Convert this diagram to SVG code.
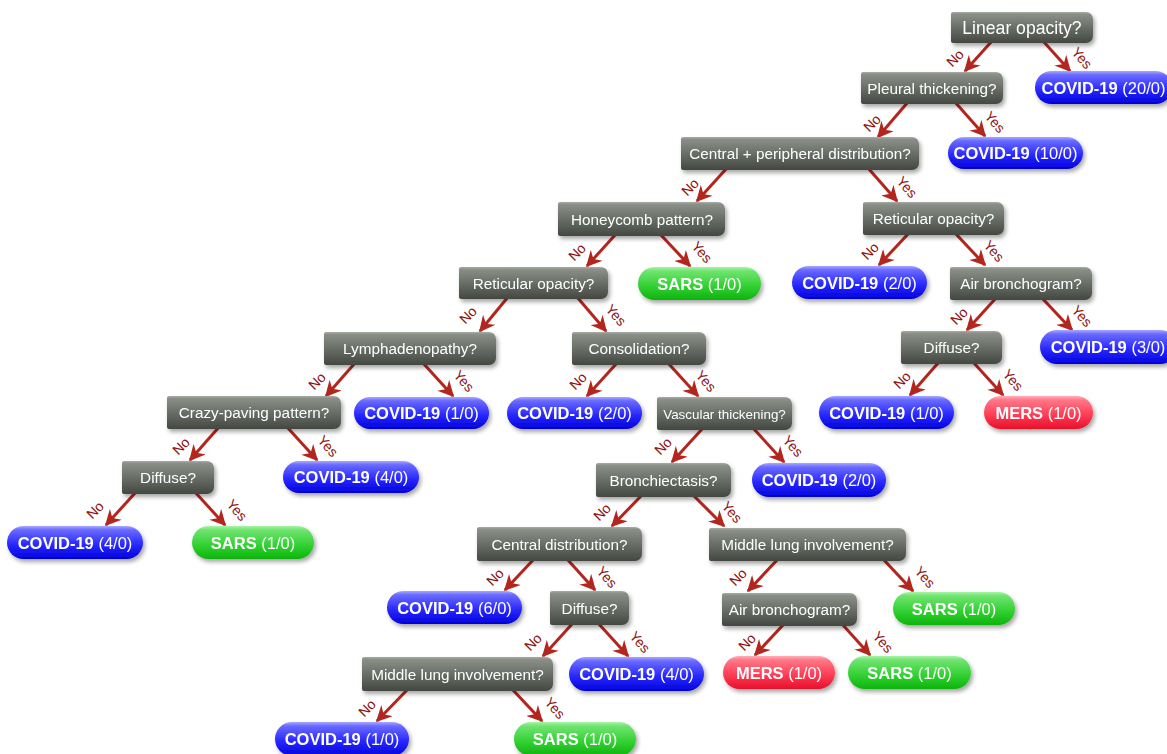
<svg xmlns="http://www.w3.org/2000/svg" width="1167" height="754" viewBox="0 0 1167 754">
<style>
.q{fill:url(#gGray)}
.qt{font-family:"Liberation Sans",Arial,sans-serif;font-size:15.3px;fill:#fff;text-anchor:middle}
.lt{font-family:"Liberation Sans",Arial,sans-serif;font-size:16.5px;fill:#fff;text-anchor:middle}
.lt tspan.b{font-weight:bold}
.blue{fill:url(#gBlue)}
.green{fill:url(#gGreen)}
.red{fill:url(#gRed)}
.e{stroke:#b3261e;stroke-width:3;fill:none;marker-end:url(#ah)}
.lb{font-family:"Liberation Sans",Arial,sans-serif;font-size:14px;fill:#8e1212;text-anchor:middle;dominant-baseline:central}
.sh{filter:url(#shadow)}
</style>
<defs>
<linearGradient id="gGray" x1="0" y1="0" x2="0" y2="1">
<stop offset="0" stop-color="#aaada7"/>
<stop offset="0.07" stop-color="#8a8f88"/>
<stop offset="1" stop-color="#434841"/>
</linearGradient>
<linearGradient id="gBlue" x1="0" y1="0" x2="0" y2="1">
<stop offset="0" stop-color="#a8a8ff"/>
<stop offset="0.12" stop-color="#6a6aff"/>
<stop offset="0.55" stop-color="#2a2aff"/>
<stop offset="1" stop-color="#0000dc"/>
</linearGradient>
<linearGradient id="gGreen" x1="0" y1="0" x2="0" y2="1">
<stop offset="0" stop-color="#a8f4a8"/>
<stop offset="0.12" stop-color="#70e470"/>
<stop offset="0.55" stop-color="#36d236"/>
<stop offset="1" stop-color="#0cb40c"/>
</linearGradient>
<linearGradient id="gRed" x1="0" y1="0" x2="0" y2="1">
<stop offset="0" stop-color="#ffb0bb"/>
<stop offset="0.12" stop-color="#ff7888"/>
<stop offset="0.55" stop-color="#ff4058"/>
<stop offset="1" stop-color="#e6102a"/>
</linearGradient>
<filter id="shadow" x="-10%" y="-20%" width="125%" height="160%">
<feGaussianBlur in="SourceAlpha" stdDeviation="2"/>
<feOffset dx="2" dy="3" result="o"/>
<feComponentTransfer><feFuncA type="linear" slope="0.35"/></feComponentTransfer>
<feMerge><feMergeNode/><feMergeNode in="SourceGraphic"/></feMerge>
</filter>
<marker id="ah" markerUnits="userSpaceOnUse" markerWidth="18" markerHeight="16" refX="14.5" refY="8" orient="auto">
<path d="M0,0 L16,8 L0,16 L5,8 z" fill="#b3261e"/>
</marker>
</defs>

<g id="connectors">
<line class="e" x1="992" y1="41" x2="965" y2="71"/><text class="lb" transform="translate(955,58) rotate(-45)">No</text>
<line class="e" x1="1043" y1="41" x2="1070" y2="71"/><text class="lb" transform="translate(1082,58) rotate(48)">Yes</text>
<line class="e" x1="908" y1="102" x2="878" y2="137"/><text class="lb" transform="translate(872,123) rotate(-45)">No</text>
<line class="e" x1="955" y1="102" x2="985" y2="136"/><text class="lb" transform="translate(995,122) rotate(48)">Yes</text>
<line class="e" x1="727" y1="168" x2="697" y2="201"/><text class="lb" transform="translate(690,187) rotate(-45)">No</text>
<line class="e" x1="868" y1="168" x2="897" y2="201"/><text class="lb" transform="translate(907,187) rotate(48)">Yes</text>
<line class="e" x1="616" y1="234" x2="587" y2="266"/><text class="lb" transform="translate(577,252) rotate(-45)">No</text>
<line class="e" x1="660" y1="234" x2="690" y2="266"/><text class="lb" transform="translate(702,252) rotate(48)">Yes</text>
<line class="e" x1="909" y1="233" x2="879" y2="265"/><text class="lb" transform="translate(870,251) rotate(-45)">No</text>
<line class="e" x1="955" y1="233" x2="985" y2="265"/><text class="lb" transform="translate(994,251) rotate(48)">Yes</text>
<line class="e" x1="508" y1="297" x2="480" y2="331"/><text class="lb" transform="translate(468,315) rotate(-45)">No</text>
<line class="e" x1="577" y1="297" x2="606" y2="331"/><text class="lb" transform="translate(616,315) rotate(48)">Yes</text>
<line class="e" x1="996" y1="298" x2="967" y2="330"/><text class="lb" transform="translate(959,316) rotate(-45)">No</text>
<line class="e" x1="1042" y1="298" x2="1072" y2="330"/><text class="lb" transform="translate(1082,316) rotate(48)">Yes</text>
<line class="e" x1="355" y1="363" x2="326" y2="396"/><text class="lb" transform="translate(317,381) rotate(-45)">No</text>
<line class="e" x1="423" y1="363" x2="453" y2="396"/><text class="lb" transform="translate(464,381) rotate(48)">Yes</text>
<line class="e" x1="617" y1="363" x2="587" y2="396"/><text class="lb" transform="translate(578,381) rotate(-45)">No</text>
<line class="e" x1="668" y1="363" x2="698" y2="396"/><text class="lb" transform="translate(706,381) rotate(48)">Yes</text>
<line class="e" x1="939" y1="362" x2="910" y2="395"/><text class="lb" transform="translate(902,380) rotate(-45)">No</text>
<line class="e" x1="973" y1="362" x2="1003" y2="395"/><text class="lb" transform="translate(1013,380) rotate(48)">Yes</text>
<line class="e" x1="219" y1="427" x2="190" y2="460"/><text class="lb" transform="translate(181,446) rotate(-45)">No</text>
<line class="e" x1="287" y1="427" x2="317" y2="460"/><text class="lb" transform="translate(328,446) rotate(48)">Yes</text>
<line class="e" x1="703" y1="428" x2="672" y2="462"/><text class="lb" transform="translate(663,446) rotate(-45)">No</text>
<line class="e" x1="753" y1="428" x2="784" y2="462"/><text class="lb" transform="translate(793,446) rotate(48)">Yes</text>
<line class="e" x1="136" y1="492" x2="106" y2="525"/><text class="lb" transform="translate(95,510) rotate(-45)">No</text>
<line class="e" x1="195" y1="492" x2="225" y2="525"/><text class="lb" transform="translate(237,510) rotate(48)">Yes</text>
<line class="e" x1="642" y1="495" x2="612" y2="526"/><text class="lb" transform="translate(602,512) rotate(-45)">No</text>
<line class="e" x1="693" y1="495" x2="724" y2="526"/><text class="lb" transform="translate(732,512) rotate(48)">Yes</text>
<line class="e" x1="534" y1="559" x2="505" y2="590"/><text class="lb" transform="translate(495,577) rotate(-45)">No</text>
<line class="e" x1="567" y1="559" x2="595" y2="590"/><text class="lb" transform="translate(607,577) rotate(48)">Yes</text>
<line class="e" x1="778" y1="559" x2="748" y2="591"/><text class="lb" transform="translate(738,577) rotate(-45)">No</text>
<line class="e" x1="883" y1="559" x2="913" y2="591"/><text class="lb" transform="translate(925,577) rotate(48)">Yes</text>
<line class="e" x1="573" y1="623" x2="543" y2="656"/><text class="lb" transform="translate(533,642) rotate(-45)">No</text>
<line class="e" x1="598" y1="623" x2="628" y2="656"/><text class="lb" transform="translate(640,642) rotate(48)">Yes</text>
<line class="e" x1="784" y1="624" x2="755" y2="655"/><text class="lb" transform="translate(747,642) rotate(-45)">No</text>
<line class="e" x1="842" y1="624" x2="870" y2="655"/><text class="lb" transform="translate(883,642) rotate(48)">Yes</text>
<line class="e" x1="408" y1="689" x2="377" y2="721"/><text class="lb" transform="translate(367,708) rotate(-45)">No</text>
<line class="e" x1="512" y1="689" x2="542" y2="721"/><text class="lb" transform="translate(555,708) rotate(48)">Yes</text>
</g>

<g id="q-linear-opacity" class="sh"><rect class="q" x="951" y="12" width="142" height="31" rx="7"/><rect class="q" x="951" y="12" width="16" height="31" rx="2"/><text class="qt" x="1022" y="34" style="font-size:17.6px">Linear opacity?</text></g>
<g id="q-pleural" class="sh"><rect class="q" x="861" y="72" width="142" height="32" rx="7"/><rect class="q" x="861" y="72" width="16" height="32" rx="2"/><text class="qt" x="932" y="93.5">Pleural thickening?</text></g>
<g id="q-central-peripheral" class="sh"><rect class="q" x="681" y="137" width="238" height="33" rx="7"/><rect class="q" x="681" y="137" width="16" height="33" rx="2"/><text class="qt" x="800" y="159">Central + peripheral distribution?</text></g>
<g id="q-honeycomb" class="sh"><rect class="q" x="558" y="202" width="167" height="34" rx="7"/><rect class="q" x="558" y="202" width="16" height="34" rx="2"/><text class="qt" x="642" y="224.5">Honeycomb pattern?</text></g>
<g id="q-reticular-r" class="sh"><rect class="q" x="863" y="202" width="141" height="33" rx="7"/><rect class="q" x="863" y="202" width="16" height="33" rx="2"/><text class="qt" x="933.5" y="224">Reticular opacity?</text></g>
<g id="q-reticular-l" class="sh"><rect class="q" x="459" y="267" width="149" height="32" rx="7"/><rect class="q" x="459" y="267" width="16" height="32" rx="2"/><text class="qt" x="533.5" y="288.5">Reticular opacity?</text></g>
<g id="q-air-r" class="sh"><rect class="q" x="950" y="267" width="142" height="33" rx="7"/><rect class="q" x="950" y="267" width="16" height="33" rx="2"/><text class="qt" x="1021" y="289">Air bronchogram?</text></g>
<g id="q-lymph" class="sh"><rect class="q" x="324" y="332" width="172" height="33" rx="7"/><rect class="q" x="324" y="332" width="16" height="33" rx="2"/><text class="qt" x="410" y="354">Lymphadenopathy?</text></g>
<g id="q-consolidation" class="sh"><rect class="q" x="572" y="332" width="134" height="33" rx="7"/><rect class="q" x="572" y="332" width="16" height="33" rx="2"/><text class="qt" x="639" y="354">Consolidation?</text></g>
<g id="q-diffuse-r" class="sh"><rect class="q" x="901" y="331" width="101" height="33" rx="7"/><rect class="q" x="901" y="331" width="16" height="33" rx="2"/><text class="qt" x="951.5" y="353">Diffuse?</text></g>
<g id="q-crazy" class="sh"><rect class="q" x="167" y="396" width="174" height="33" rx="7"/><rect class="q" x="167" y="396" width="16" height="33" rx="2"/><text class="qt" x="254" y="418">Crazy-paving pattern?</text></g>
<g id="q-vascular" class="sh"><rect class="q" x="657" y="397" width="135" height="33" rx="7"/><rect class="q" x="657" y="397" width="16" height="33" rx="2"/><text class="qt" x="724.5" y="418.5" style="font-size:13.4px">Vascular thickening?</text></g>
<g id="q-diffuse-l" class="sh"><rect class="q" x="122" y="461" width="92" height="33" rx="7"/><rect class="q" x="122" y="461" width="16" height="33" rx="2"/><text class="qt" x="168" y="483">Diffuse?</text></g>
<g id="q-bronchiectasis" class="sh"><rect class="q" x="596" y="463" width="135" height="34" rx="7"/><rect class="q" x="596" y="463" width="16" height="34" rx="2"/><text class="qt" x="663.5" y="485.5">Bronchiectasis?</text></g>
<g id="q-central-dist" class="sh"><rect class="q" x="477" y="527" width="165" height="34" rx="7"/><rect class="q" x="477" y="527" width="16" height="34" rx="2"/><text class="qt" x="559.5" y="549.5">Central distribution?</text></g>
<g id="q-middle-r" class="sh"><rect class="q" x="709" y="528" width="197" height="33" rx="7"/><rect class="q" x="709" y="528" width="16" height="33" rx="2"/><text class="qt" x="807.5" y="550">Middle lung involvement?</text></g>
<g id="q-diffuse-b" class="sh"><rect class="q" x="550" y="591" width="79" height="34" rx="7"/><rect class="q" x="550" y="591" width="16" height="34" rx="2"/><text class="qt" x="589.5" y="613.5">Diffuse?</text></g>
<g id="q-air-b" class="sh"><rect class="q" x="722" y="593" width="135" height="33" rx="7"/><rect class="q" x="722" y="593" width="16" height="33" rx="2"/><text class="qt" x="789.5" y="615">Air bronchogram?</text></g>
<g id="q-middle-b" class="sh"><rect class="q" x="362" y="657" width="191" height="34" rx="7"/><rect class="q" x="362" y="657" width="16" height="34" rx="2"/><text class="qt" x="457.5" y="679.5">Middle lung involvement?</text></g>

<g id="leaf-covid-20" class="sh"><rect class="blue" x="1035" y="71" width="137" height="33" rx="16.5"/><text class="lt" x="1103.5" y="93.5"><tspan class="b">COVID-19</tspan> (20/0)</text></g>
<g id="leaf-covid-10" class="sh"><rect class="blue" x="948" y="137" width="135" height="32" rx="16"/><text class="lt" x="1015.5" y="159"><tspan class="b">COVID-19</tspan> (10/0)</text></g>
<g id="leaf-sars-honeycomb" class="sh"><rect class="green" x="638" y="267" width="123" height="33" rx="16.5"/><text class="lt" x="699.5" y="289.5"><tspan class="b">SARS</tspan> (1/0)</text></g>
<g id="leaf-covid-2a" class="sh"><rect class="blue" x="792" y="266" width="135" height="33" rx="16.5"/><text class="lt" x="859.5" y="288.5"><tspan class="b">COVID-19</tspan> (2/0)</text></g>
<g id="leaf-covid-3" class="sh"><rect class="blue" x="1040" y="330" width="137" height="34" rx="17"/><text class="lt" x="1108" y="353"><tspan class="b">COVID-19</tspan> (3/0)</text></g>
<g id="leaf-covid-1a" class="sh"><rect class="blue" x="354" y="397" width="135" height="32" rx="16"/><text class="lt" x="421.5" y="419"><tspan class="b">COVID-19</tspan> (1/0)</text></g>
<g id="leaf-covid-2b" class="sh"><rect class="blue" x="507" y="397" width="135" height="32" rx="16"/><text class="lt" x="574.5" y="419"><tspan class="b">COVID-19</tspan> (2/0)</text></g>
<g id="leaf-covid-1b" class="sh"><rect class="blue" x="819" y="396" width="135" height="33" rx="16.5"/><text class="lt" x="886.5" y="418.5"><tspan class="b">COVID-19</tspan> (1/0)</text></g>
<g id="leaf-mers-a" class="sh"><rect class="red" x="984" y="396" width="109" height="33" rx="16.5"/><text class="lt" x="1038.5" y="418.5"><tspan class="b">MERS</tspan> (1/0)</text></g>
<g id="leaf-covid-4a" class="sh"><rect class="blue" x="283" y="461" width="136" height="32" rx="16"/><text class="lt" x="351" y="483"><tspan class="b">COVID-19</tspan> (4/0)</text></g>
<g id="leaf-covid-2c" class="sh"><rect class="blue" x="752" y="463" width="134" height="34" rx="17"/><text class="lt" x="819" y="486"><tspan class="b">COVID-19</tspan> (2/0)</text></g>
<g id="leaf-covid-4b" class="sh"><rect class="blue" x="7" y="526" width="136" height="33" rx="16.5"/><text class="lt" x="75" y="548.5"><tspan class="b">COVID-19</tspan> (4/0)</text></g>
<g id="leaf-sars-diffuse" class="sh"><rect class="green" x="192" y="526" width="122" height="33" rx="16.5"/><text class="lt" x="253" y="548.5"><tspan class="b">SARS</tspan> (1/0)</text></g>
<g id="leaf-covid-6" class="sh"><rect class="blue" x="387" y="591" width="135" height="33" rx="16.5"/><text class="lt" x="454.5" y="613.5"><tspan class="b">COVID-19</tspan> (6/0)</text></g>
<g id="leaf-sars-middle" class="sh"><rect class="green" x="893" y="592" width="122" height="33" rx="16.5"/><text class="lt" x="954" y="614.5"><tspan class="b">SARS</tspan> (1/0)</text></g>
<g id="leaf-covid-4c" class="sh"><rect class="blue" x="569" y="657" width="135" height="34" rx="17"/><text class="lt" x="636.5" y="680"><tspan class="b">COVID-19</tspan> (4/0)</text></g>
<g id="leaf-mers-b" class="sh"><rect class="red" x="723" y="656" width="112" height="33" rx="16.5"/><text class="lt" x="779" y="678.5"><tspan class="b">MERS</tspan> (1/0)</text></g>
<g id="leaf-sars-air" class="sh"><rect class="green" x="848" y="656" width="123" height="33" rx="16.5"/><text class="lt" x="909.5" y="678.5"><tspan class="b">SARS</tspan> (1/0)</text></g>
<g id="leaf-covid-1c" class="sh"><rect class="blue" x="275" y="722" width="134" height="34" rx="17"/><text class="lt" x="342" y="744.5"><tspan class="b">COVID-19</tspan> (1/0)</text></g>
<g id="leaf-sars-bottom" class="sh"><rect class="green" x="514" y="722" width="122" height="34" rx="17"/><text class="lt" x="575" y="744.5"><tspan class="b">SARS</tspan> (1/0)</text></g>
</svg>
